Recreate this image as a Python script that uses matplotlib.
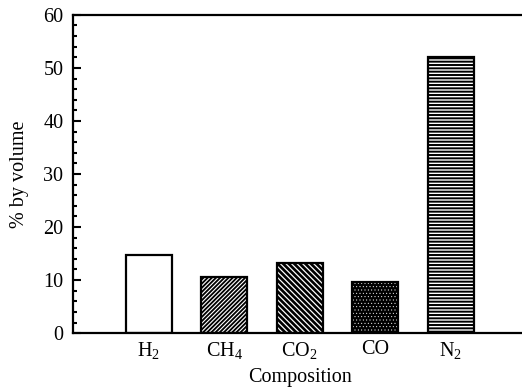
import matplotlib.pyplot as plt
from matplotlib.ticker import MultipleLocator

plt.rcParams['font.family'] = ['Liberation Serif', 'DejaVu Serif']
plt.rcParams['mathtext.fontset'] = 'stix'
plt.rcParams['hatch.linewidth'] = 1.0

gases = ['$\\mathregular{H_2}$', '$\\mathregular{CH_4}$', '$\\mathregular{CO_2}$', 'CO', '$\\mathregular{N_2}$']
volume = [14.7, 10.6, 13.3, 9.6, 52.1]
hatches = ['', '/' * 8, '\\' * 6, '.' * 5, '-' * 5]
faces = ['white', 'black', 'black', 'black', 'white']
hatch_colors = ['black', 'white', 'white', 'white', 'black']
hatch_lw = [1.0, 0.8, 0.9, 0.3, 1.4]

fig = plt.figure(figsize=(5.22, 3.91), dpi=100)
ax = fig.add_axes([0.14, 0.148, 0.868, 0.814])

pos = [1, 2, 3, 4, 5]
w = 0.61
for i in range(len(pos)):
    # fill + hatch first, then the black outline on top
    with plt.rc_context({'hatch.linewidth': hatch_lw[i]}):
        ax.bar(pos[i], volume[i], width=w, color=faces[i], edgecolor=hatch_colors[i],
               hatch=hatches[i], linewidth=0)
    ax.bar(pos[i], volume[i], width=w, fill=False, edgecolor='black', linewidth=1.6)

ax.set_xlim(0, 6)
ax.set_ylim(0, 60)
ax.set_xticks(pos)
ax.set_xticklabels(gases, fontsize=14.5)
ax.tick_params(axis='x', length=0, pad=5)
ax.yaxis.set_major_locator(MultipleLocator(10))
ax.yaxis.set_minor_locator(MultipleLocator(2))
ax.tick_params(axis='y', which='major', direction='in', length=6, width=1.5, labelsize=14.5, pad=7)
ax.tick_params(axis='y', which='minor', direction='in', length=3, width=1.5)
for s in ax.spines.values():
    s.set_linewidth(1.6)

ax.set_xlabel('Composition', fontsize=14.5, labelpad=5)
ax.set_ylabel('% by volume', fontsize=14.5, labelpad=10)

fig.savefig('out.png', dpi=100)
